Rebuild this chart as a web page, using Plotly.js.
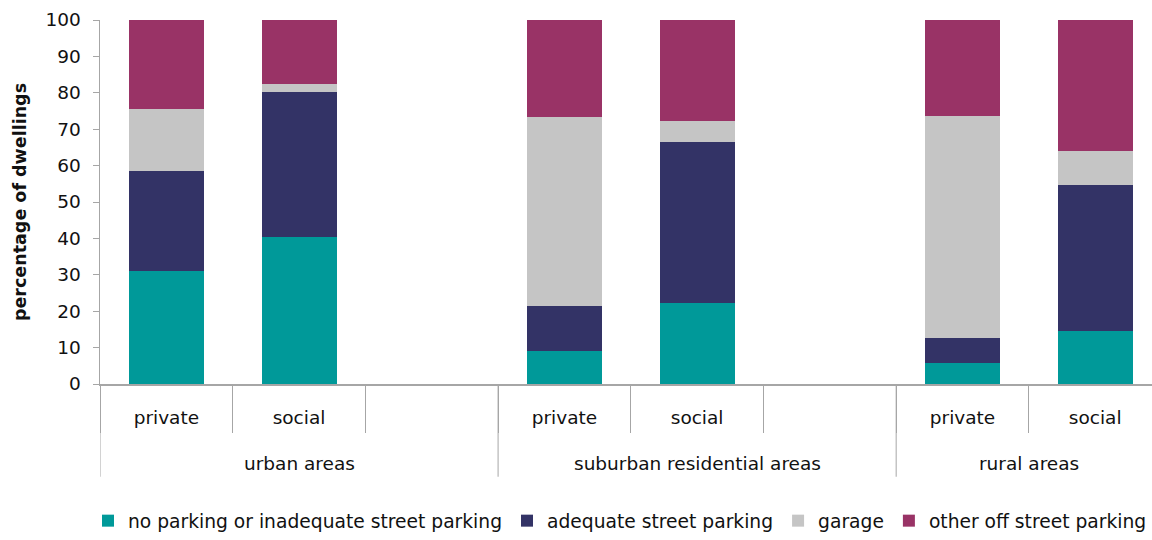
<!DOCTYPE html>
<html>
<head>
<meta charset="utf-8">
<script src="https://cdn.plot.ly/plotly-3.0.1.min.js"></script>
<style>
html,body{margin:0;padding:0;background:#fff;overflow:hidden;}
#chart{width:1152px;height:540px;}
</style>
</head>
<body>
<div id="chart"></div>
<script>
// Area groups (outer category) and tenure (inner category); blank slots keep spacing between groups
const areaGroups = ["urban areas","urban areas","urban areas",
  "suburban residential areas","suburban residential areas","suburban residential areas",
  "rural areas","rural areas"];
const tenures = ["private","social","","private","social","","private","social"];

// Percentage of dwellings by parking type
const noParking = [31.0, 40.3, null, 9.0, 22.2, null, 5.8, 14.5];
const adequateStreet = [27.4, 40.0, null, 12.4, 44.4, null, 6.8, 40.3];
const garage = [17.2, 2.2, null, 52.0, 5.7, null, 61.1, 9.3];
const otherOffStreet = [24.4, 17.5, null, 26.6, 27.7, null, 26.3, 35.9];

const seriesNames = ["no parking or inadequate street parking","adequate street parking","garage","other off street parking"];
const seriesValues = [noParking, adequateStreet, garage, otherOffStreet];
const seriesColors = ["#009999","#333366","#C5C5C5","#993366"];

const font = "DejaVu Sans, sans-serif";
const axisGrey = "#A6A6A6";

// unique category keys per slot
const slotKeys = areaGroups.map((g, i) => g + "|" + i);

const traces = seriesNames.map((name, i) => ({
  type: "bar",
  name: name,
  x: slotKeys,
  y: seriesValues[i],
  marker: {color: seriesColors[i], line: {width: 0}},
  hoverinfo: "y+name"
}));

// group label positions and dividers, derived from the group array
const groupNames = [...new Set(areaGroups)];
const annotations = groupNames.map(g => {
  const idx = areaGroups.map((a, i) => a === g ? i : -1).filter(i => i >= 0);
  const first = idx[0], last = idx[idx.length - 1];
  return {
    xref: "x", yref: "paper",
    x: (first + last) / 2, y: -0.2192,
    xanchor: "center", yanchor: "middle",
    text: g, showarrow: false,
    font: {family: font, size: 18.5, color: "#111"}
  };
});
const shapes = groupNames.map(g => {
  const first = areaGroups.indexOf(g);
  return {
    type: "line", xref: "x", yref: "paper",
    x0: first - 0.5, x1: first - 0.5, y0: 0, y1: -0.2548,
    line: {color: axisGrey, width: 1}
  };
});

const layout = {
  width: 1152, height: 540,
  margin: {l: 100, r: 0, t: 20, b: 155},
  barmode: "stack",
  bargap: 0.435,
  paper_bgcolor: "#fff",
  plot_bgcolor: "#fff",
  font: {family: font, size: 18.5, color: "#111"},
  showlegend: true,
  legend: {
    orientation: "h",
    x: -0.0005, xanchor: "left",
    y: -0.378, yanchor: "middle",
    font: {family: font, size: 18.7, color: "#111"},
    itemwidth: 30,
    traceorder: "normal"
  },
  annotations: annotations,
  shapes: shapes,
  xaxis: {
    type: "category",
    automargin: false,
    range: [-0.5, 7.428],
    tickmode: "array", tickvals: slotKeys, ticktext: tenures,
    showline: true, linecolor: axisGrey, linewidth: 1.5,
    ticks: "outside", tickson: "boundaries", ticklen: 47, tickcolor: axisGrey, tickwidth: 1,
    ticklabelstandoff: 16,
    showgrid: false, zeroline: false,
    tickfont: {family: font, size: 18.5, color: "#111"}
  },
  yaxis: {
    automargin: false,
    range: [0, 100],
    dtick: 10,
    showline: true, linecolor: axisGrey, linewidth: 1.5,
    ticks: "outside", ticklen: 6, tickcolor: axisGrey,
    ticklabelstandoff: 8,
    showgrid: false, zeroline: false,
    tickfont: {family: font, size: 18.5, color: "#111"},
    title: {text: "<b>percentage of dwellings</b>", font: {family: font, size: 17.5, color: "#111"}, standoff: 14}
  }
};

Plotly.newPlot("chart", traces, layout, {displayModeBar: false, staticPlot: true});
</script>
</body>
</html>
